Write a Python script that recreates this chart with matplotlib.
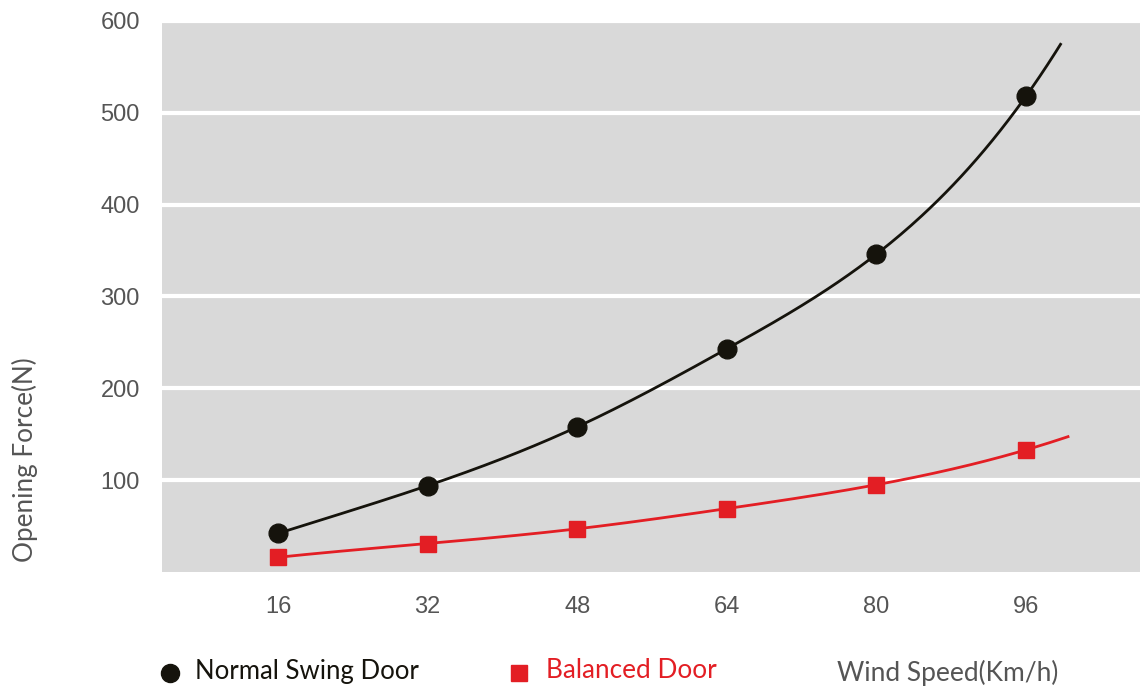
import numpy as np
import matplotlib
matplotlib.use("Agg")
import matplotlib.pyplot as plt
from matplotlib.lines import Line2D

wind_speed = [16, 32, 48, 64, 80, 96]
normal_swing = [42, 94, 158, 243, 346, 518]
balanced = [16, 31, 47, 69, 95, 133]
x_ticks = [16, 32, 48, 64, 80, 96]
y_ticks = [100, 200, 300, 400, 500, 600]

BLACK = "#15130c"
RED = "#e31e24"
GRAY = "#555555"
BG = "#d9d9d9"


def spline(xs, ys, x_end, n=300):
    """Not-a-knot cubic spline through the points, extended with the last segment."""
    xs = np.asarray(xs, float); ys = np.asarray(ys, float)
    m = len(xs) - 1
    A = np.zeros((4 * m, 4 * m)); b = np.zeros(4 * m)
    r = 0
    def row(i, x, d):
        v = np.zeros(4 * m)
        t = x - xs[i]
        if d == 0: v[4*i:4*i+4] = [1, t, t*t, t**3]
        if d == 1: v[4*i:4*i+4] = [0, 1, 2*t, 3*t*t]
        if d == 2: v[4*i:4*i+4] = [0, 0, 2, 6*t]
        if d == 3: v[4*i:4*i+4] = [0, 0, 0, 6]
        return v
    for i in range(m):
        A[r] = row(i, xs[i], 0); b[r] = ys[i]; r += 1
        A[r] = row(i, xs[i+1], 0); b[r] = ys[i+1]; r += 1
    for i in range(m - 1):
        for d in (1, 2):
            A[r] = row(i, xs[i+1], d) - row(i+1, xs[i+1], d); r += 1
    A[r] = row(0, xs[1], 3) - row(1, xs[1], 3); r += 1
    A[r] = row(m-2, xs[m-1], 3) - row(m-1, xs[m-1], 3); r += 1
    c = np.linalg.solve(A, b).reshape(m, 4)
    xx = np.linspace(xs[0], x_end, n)
    idx = np.clip(np.searchsorted(xs, xx, side='right') - 1, 0, m - 1)
    t = xx - xs[idx]
    yy = c[idx, 0] + c[idx, 1]*t + c[idx, 2]*t**2 + c[idx, 3]*t**3
    return xx, yy


fig = plt.figure(figsize=(11.4, 6.9), dpi=100)
ax = fig.add_axes([162/1140, 1-572/690, 1-162/1140, (572-21)/690])
ax.set_facecolor(BG)
for s in ax.spines.values():
    s.set_visible(False)

xx, yy = spline(wind_speed, normal_swing, 99.7)
ax.plot(xx, yy, color=BLACK, lw=2.0, zorder=3)
ax.plot(wind_speed, normal_swing, 'o', color=BLACK, ms=13.5, zorder=4)
xx, yy = spline(wind_speed, balanced, 100.5)
ax.plot(xx, yy, color=RED, lw=2.0, zorder=3)
ax.plot(wind_speed, balanced, 's', color=RED, ms=11, zorder=4)

ax.set_xlim(3.6, 108.2)
ax.set_ylim(0, 600)
ax.set_xticks(x_ticks)
ax.set_yticks(y_ticks)
ax.set_xticklabels([str(v) for v in x_ticks], fontsize=17, family="Liberation Sans", color=GRAY)
ax.set_yticklabels([str(v) for v in y_ticks], fontsize=17, family="Liberation Sans", color=GRAY)
ax.grid(axis='y', color='white', lw=3)
ax.set_axisbelow(True)
ax.tick_params(length=0)
ax.tick_params(axis='y', pad=16)
ax.tick_params(axis='x', pad=17)

fig.text(25/1140, 1-460/690, "Opening Force(N)", rotation=90, ha='center', va='center',
         fontsize=18.8, color=GRAY, family="Lato")

# legend
fig.add_artist(Line2D([170/1140], [1-673/690], marker='o', color=BLACK, ms=13, transform=fig.transFigure))
fig.text(195/1140, 1-671/690, "Normal Swing Door", ha='left', va='center', fontsize=18.5, color=BLACK, family="Lato")
fig.add_artist(Line2D([519/1140], [1-673/690], marker='s', color=RED, ms=11, transform=fig.transFigure))
fig.text(546/1140, 1-671/690, "Balanced Door", ha='left', va='center', fontsize=18.8, color=RED, family="Lato")
fig.text(837/1140, 1-673/690, "Wind Speed(Km/h)", ha='left', va='center', fontsize=19, color=GRAY, family="Lato")

fig.savefig("out.png", dpi=100)
